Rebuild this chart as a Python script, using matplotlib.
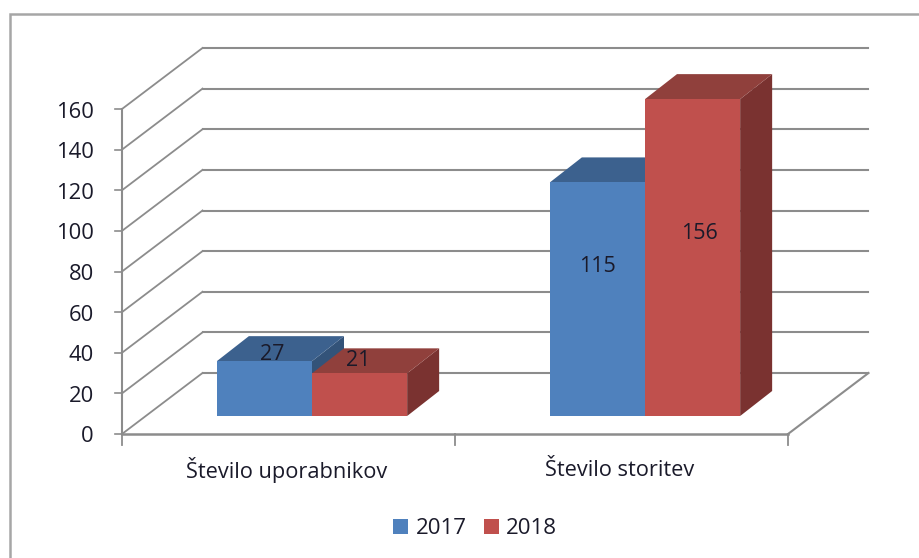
import matplotlib
matplotlib.use("Agg")
import matplotlib.pyplot as plt
from matplotlib.patches import Polygon, Rectangle, Patch
from matplotlib.lines import Line2D

plt.rcParams['font.family'] = ['Open Sans', 'DejaVu Sans']

categories = ["Število uporabnikov", "Število storitev"]
series_names = ["2017", "2018"]
values_2017 = [27, 115]
values_2018 = [21, 156]
y_ticks = [0, 20, 40, 60, 80, 100, 120, 140, 160]

W, H = 919, 558
PX0, PX1 = 122, 788      # front plane horizontal extent (pixels)
PY0, PY1 = 434, 109      # front plane vertical extent (pixels, from top)

fig = plt.figure(figsize=(W / 100, H / 100), dpi=100, facecolor="white")
ax = fig.add_axes([PX0 / W, 1 - PY0 / H, (PX1 - PX0) / W, (PY0 - PY1) / H])
ax.set_xlim(0, 2)
ax.set_ylim(0, 160)
ax.axis("off")

ux = (PX1 - PX0) / 2      # pixels per category
uy = (PY0 - PY1) / 160    # pixels per value
WALL_DX = 80.5 / ux
WALL_DY = 61 / uy
BAR_DX0 = 23.5 / ux       # bar front face offset from the floor front
BAR_DY0 = 18.0 / uy
BAR_DX = 32 / ux          # bar depth
BAR_DY = 25 / uy

GRID = "#8c8c8c"
TXT = "#1a1a2a"
COL = {"2017": ("#4f81bd", "#3c618e", "#335379"),
       "2018": ("#c0504d", "#90403c", "#7a3230")}


def line(xs, ys, lw=1.5, color=GRID, z=1):
    ax.add_line(Line2D(xs, ys, color=color, lw=lw, clip_on=False, zorder=z,
                       solid_capstyle="projecting"))


# walls and gridlines
for v in y_ticks:
    line([0, WALL_DX], [v, v + WALL_DY], lw=1.3)
    line([WALL_DX, 2 + WALL_DX], [v + WALL_DY, v + WALL_DY], lw=1.5)
    line([-7 / ux, 0], [v, v], lw=1.2)
line([0, 0], [0, 160], lw=1.5)
line([0, 2], [0, 0], lw=1.8)
line([2, 2 + WALL_DX], [0, WALL_DY], lw=1.5)
for t in [0, 1, 2]:
    line([t, t], [0, -11 / uy], lw=1.3)

# y tick labels
for v in y_ticks:
    ax.annotate(str(v), (0, v), xytext=(-28, -3), textcoords="offset pixels",
                ha="right", va="center", fontsize=15.8, color=TXT,
                annotation_clip=False)

# category labels
for i, c in enumerate(categories):
    ax.annotate(c, (i + 0.5, 0), xytext=(-2, -36), textcoords="offset pixels",
                ha="center", va="center", fontsize=15.7, color=TXT,
                annotation_clip=False)

# bars (back to front, left to right)
bar_w = 1 / 3.5
label_offsets = {(0, 0): (8, 7), (0, 1): (-1, 13), (1, 0): (0, -84), (1, 1): (7, -134)}
for i in range(2):
    for j, (name, vals) in enumerate(zip(series_names, [values_2017, values_2018])):
        v = vals[i]
        x0 = i + 0.5 - bar_w + j * bar_w + BAR_DX0
        x1 = x0 + bar_w
        y0 = BAR_DY0
        y1 = BAR_DY0 + v
        face, top, side = COL[name]
        z = 5 + i * 2 + j * 0.1
        ax.add_patch(Polygon([(x1, y0), (x1 + BAR_DX, y0 + BAR_DY),
                              (x1 + BAR_DX, y1 + BAR_DY), (x1, y1)],
                             fc=side, ec="none", zorder=z, clip_on=False))
        ax.add_patch(Polygon([(x0, y1), (x1, y1), (x1 + BAR_DX, y1 + BAR_DY),
                              (x0 + BAR_DX, y1 + BAR_DY)],
                             fc=top, ec="none", zorder=z, clip_on=False))
        ax.add_patch(Rectangle((x0, y0), bar_w, v, fc=face, ec="none",
                               zorder=z + 0.05, clip_on=False))
        dx, dy = label_offsets[(i, j)]
        ax.annotate(str(v), ((x0 + x1) / 2, y1), xytext=(dx, dy),
                    textcoords="offset pixels", ha="center", va="center",
                    fontsize=15.5, color=TXT, zorder=20, annotation_clip=False)

# chart frame: the right and bottom edges run off the picture
fig.add_artist(Rectangle((9.5 / W, -0.02), 1.02, 1.02 - 14 / H,
                         transform=fig.transFigure, fc="none", ec="#a6a6a6", lw=1.8))

# legend
handles = [Patch(fc=COL[n][0], ec="none") for n in series_names]
fig.legend(handles, series_names, loc="center", bbox_to_anchor=(475 / W, 1 - 529 / H),
           ncol=2, frameon=False, fontsize=16, labelcolor=TXT, handlelength=0.68,
           handleheight=0.68, handletextpad=0.32, columnspacing=0.77, borderpad=0)

fig.savefig("out.png", dpi=100)
